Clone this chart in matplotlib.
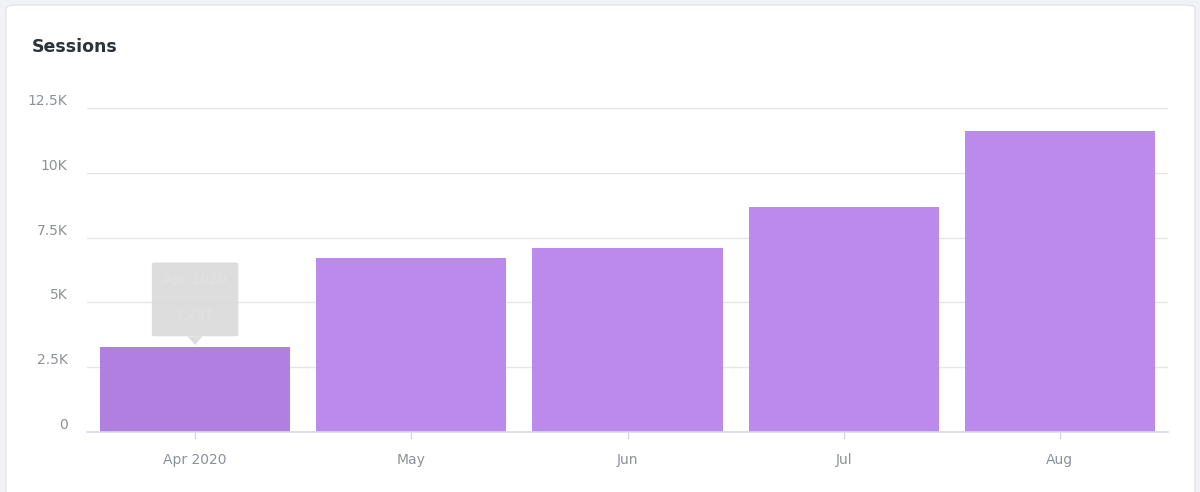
import matplotlib.pyplot as plt
from matplotlib.patches import FancyBboxPatch, Polygon
from matplotlib.ticker import FuncFormatter

months = ['Apr 2020', 'May', 'Jun', 'Jul', 'Aug']
sessions = [3281, 6718, 7100, 8690, 11620]
y_ticks = [0, 2500, 5000, 7500, 10000, 12500]
tick_labels = ['0', '2.5K', '5K', '7.5K', '10K', '12.5K']

W, H = 1200, 492
fig = plt.figure(figsize=(12, 4.92), dpi=100)
fig.patch.set_facecolor('#f1f2f5')

# white card behind the chart
card = FancyBboxPatch((6 / W, -0.05), 1189 / W, 1 - 5 / H + 0.05,
                      boxstyle='round,pad=0,rounding_size=0.008',
                      transform=fig.transFigure, facecolor='white',
                      edgecolor='#e3e5e9', linewidth=1.0, zorder=-10)
fig.patches.append(card)

fig.text(32 / W, 1 - 47 / H, 'Sessions', fontsize=12.5, color='#2a323a',
         fontweight='semibold', va='center', ha='left')

ax = fig.add_axes([87 / W, 1 - 432 / H, 1081 / W, 324 / H])
ax.set_facecolor('none')

x = range(len(months))
colors = ['#b07fe0'] + ['#bb8aec'] * (len(months) - 1)
ax.bar(x, sessions, width=0.88, color=colors, zorder=2)

ax.set_xlim(-0.5, len(months) - 0.5)
ax.set_ylim(0, 12500)
ax.set_yticks(y_ticks)
ax.yaxis.set_major_formatter(FuncFormatter(lambda v, p: tick_labels[y_ticks.index(int(v))] if int(v) in y_ticks else ''))
ax.grid(axis='y', color='#e4e6ea', linewidth=1, zorder=0)
ax.set_xticks(list(x))
ax.set_xticklabels(months)

for s in ['top', 'right', 'left']:
    ax.spines[s].set_visible(False)
ax.spines['bottom'].set_color('#dcd6ee')
ax.spines['bottom'].set_linewidth(1.2)
ax.spines['bottom'].set_zorder(3)

ax.tick_params(axis='y', length=0, pad=14, labelsize=10, labelcolor='#8c9299')
ax.tick_params(axis='x', length=5, width=1, color='#d6d8dd', pad=10,
               labelsize=10, labelcolor='#8c9299')
for lab in ax.get_yticklabels():
    lab.set_verticalalignment('bottom')

# hover tooltip over first bar
tip = FancyBboxPatch((-0.2, sessions[0] + 410), 0.4, 2850,
                     boxstyle='round,pad=0,rounding_size=0.02',
                     mutation_aspect=2500, facecolor='#d8d8d8', alpha=0.85,
                     edgecolor='none', zorder=4)
ax.add_patch(tip)
ax.add_patch(Polygon([[-0.035, sessions[0] + 410], [0.035, sessions[0] + 410],
                      [0, sessions[0] + 80]], closed=True,
                     facecolor='#d8d8d8', alpha=0.85, edgecolor='none', zorder=4))
ax.text(0, sessions[0] + 2600, months[0], ha='center', va='center',
        fontsize=10, color='#e2e2e2', zorder=5)
ax.text(0, sessions[0] + 1250, f'{sessions[0]:,}', ha='center', va='center',
        fontsize=10, color='#e2e2e2', zorder=5)

fig.savefig('out.png', dpi=100)
